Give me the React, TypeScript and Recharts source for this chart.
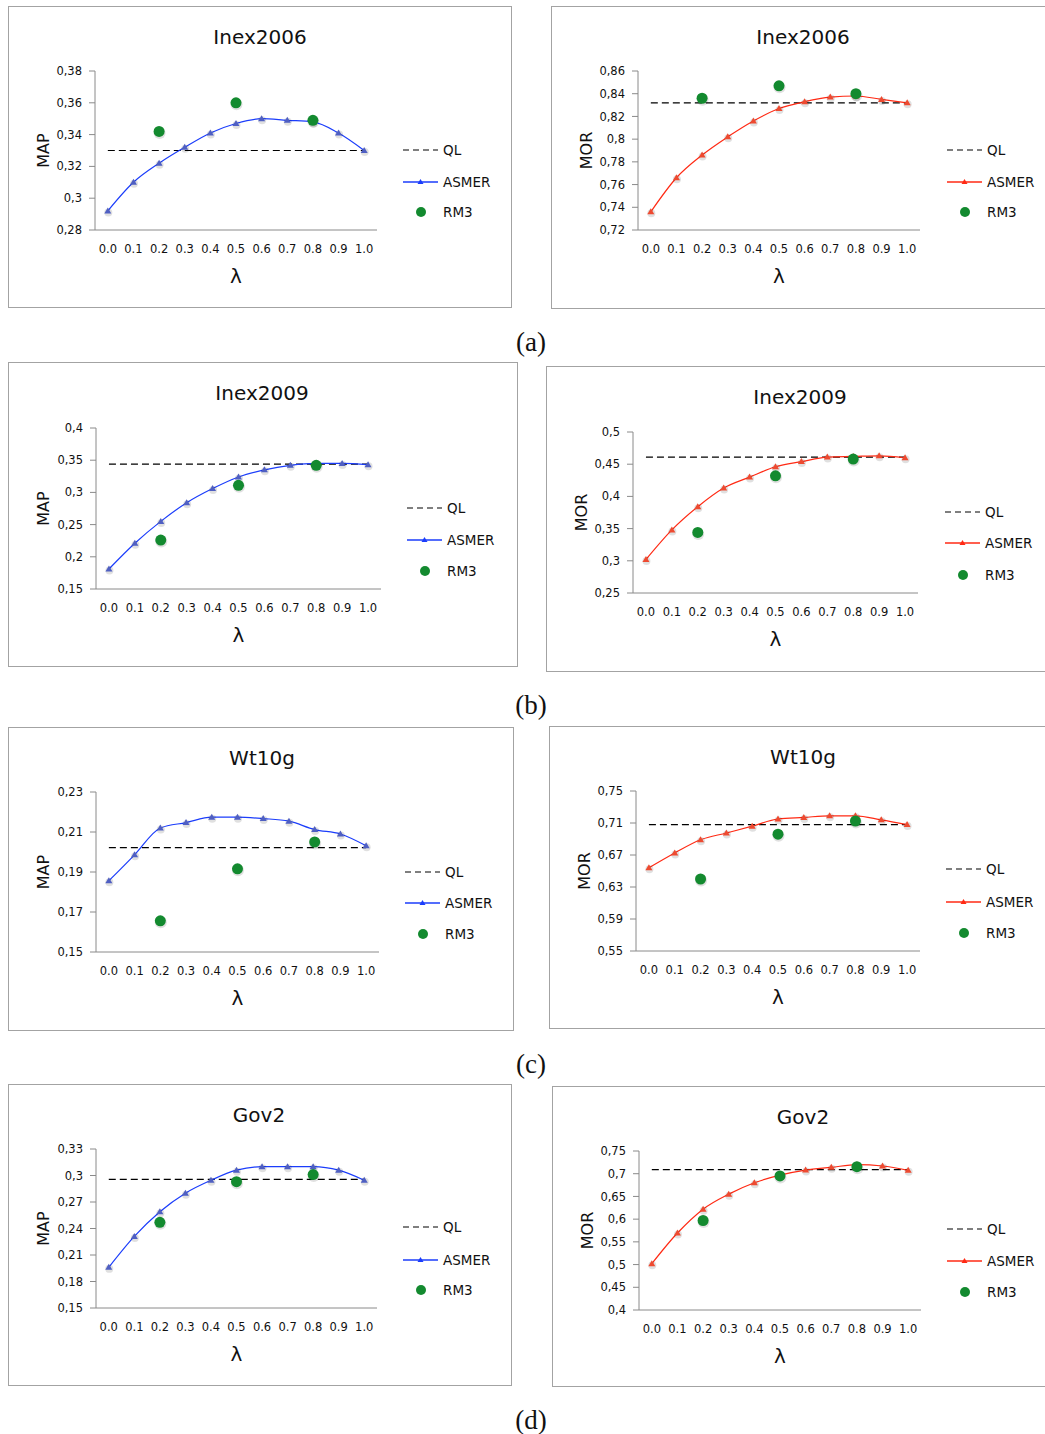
import { LineChart, Line, XAxis, YAxis } from 'recharts';

// lambda values on the x axis
const lambdas = ['0.0', '0.1', '0.2', '0.3', '0.4', '0.5', '0.6', '0.7', '0.8', '0.9', '1.0'];
// RM3 was only run at these lambdas
const rm3Lambdas = ['0.2', '0.5', '0.8'];

// Inex2006
const inex2006MapAsmer = [0.292, 0.31, 0.322, 0.332, 0.341, 0.347, 0.35, 0.349, 0.348, 0.341, 0.33];
const inex2006MapQl = 0.33;
const inex2006MapRm3 = [0.342, 0.36, 0.349];
const inex2006MapTicks = [0.28, 0.3, 0.32, 0.34, 0.36, 0.38];

const inex2006MorAsmer = [0.736, 0.766, 0.786, 0.802, 0.816, 0.827, 0.833, 0.837, 0.838, 0.835, 0.832];
const inex2006MorQl = 0.832;
const inex2006MorRm3 = [0.836, 0.847, 0.84];
const inex2006MorTicks = [0.72, 0.74, 0.76, 0.78, 0.8, 0.82, 0.84, 0.86];

// Inex2009
const inex2009MapAsmer = [0.181, 0.221, 0.255, 0.284, 0.306, 0.324, 0.335, 0.342, 0.345, 0.345, 0.343];
const inex2009MapQl = 0.344;
const inex2009MapRm3 = [0.226, 0.311, 0.342];
const inex2009MapTicks = [0.15, 0.2, 0.25, 0.3, 0.35, 0.4];

const inex2009MorAsmer = [0.302, 0.348, 0.384, 0.413, 0.43, 0.446, 0.454, 0.461, 0.462, 0.463, 0.46];
const inex2009MorQl = 0.461;
const inex2009MorRm3 = [0.344, 0.432, 0.458];
const inex2009MorTicks = [0.25, 0.3, 0.35, 0.4, 0.45, 0.5];

// Wt10g
const wt10gMapAsmer = [0.1856, 0.1986, 0.212, 0.2147, 0.2174, 0.2174, 0.2167, 0.2154, 0.2112, 0.209, 0.2031];
const wt10gMapQl = 0.2022;
const wt10gMapRm3 = [0.1656, 0.1916, 0.205];
const wt10gMapTicks = [0.15, 0.17, 0.19, 0.21, 0.23];

const wt10gMorAsmer = [0.654, 0.6725, 0.689, 0.6975, 0.706, 0.715, 0.717, 0.719, 0.719, 0.714, 0.708];
const wt10gMorQl = 0.708;
const wt10gMorRm3 = [0.64, 0.696, 0.7125];
const wt10gMorTicks = [0.55, 0.59, 0.63, 0.67, 0.71, 0.75];

// Gov2
const gov2MapAsmer = [0.196, 0.231, 0.259, 0.28, 0.2946, 0.306, 0.31, 0.31, 0.31, 0.306, 0.2946];
const gov2MapQl = 0.2957;
const gov2MapRm3 = [0.247, 0.293, 0.301];
const gov2MapTicks = [0.15, 0.18, 0.21, 0.24, 0.27, 0.3, 0.33];

const gov2MorAsmer = [0.502, 0.5695, 0.622, 0.655, 0.68, 0.697, 0.708, 0.714, 0.72, 0.717, 0.7074];
const gov2MorQl = 0.709;
const gov2MorRm3 = [0.597, 0.695, 0.7155];
const gov2MorTicks = [0.4, 0.45, 0.5, 0.55, 0.6, 0.65, 0.7, 0.75];

const SANS = '"DejaVu Sans", Verdana, sans-serif';
const BLUE = '#1b3dfb';
const BLUE_MARK = '#4f5fc2';
const RED = '#ff2a14';
const RED_MARK = '#ee4a30';
const GREEN = '#138a2f';
const AXIS = '#8a8a8a';

const fmt = (v: number) => String(+v.toFixed(2)).replace('.', ',');

const panels = [
  { title: 'Inex2006', yLabel: 'MAP', asmer: inex2006MapAsmer, ql: inex2006MapQl, rm3: inex2006MapRm3, ticks: inex2006MapTicks, red: false,
    left: 8, top: 6, w: 504, h: 302, pl: 87, pt: 65, pw: 282, ph: 159, tx: 252, lx: 395, ly: [144, 176, 206] },
  { title: 'Inex2006', yLabel: 'MOR', asmer: inex2006MorAsmer, ql: inex2006MorQl, rm3: inex2006MorRm3, ticks: inex2006MorTicks, red: true,
    left: 551, top: 6, w: 504, h: 303, pl: 87, pt: 65, pw: 282, ph: 159, tx: 252, lx: 396, ly: [144, 176, 206] },
  { title: 'Inex2009', yLabel: 'MAP', asmer: inex2009MapAsmer, ql: inex2009MapQl, rm3: inex2009MapRm3, ticks: inex2009MapTicks, red: false,
    left: 8, top: 362, w: 510, h: 305, pl: 88, pt: 66, pw: 285, ph: 161, tx: 254, lx: 399, ly: [146, 178, 209] },
  { title: 'Inex2009', yLabel: 'MOR', asmer: inex2009MorAsmer, ql: inex2009MorQl, rm3: inex2009MorRm3, ticks: inex2009MorTicks, red: true,
    left: 546, top: 366, w: 510, h: 306, pl: 87, pt: 66, pw: 285, ph: 161, tx: 254, lx: 399, ly: [146, 177, 209] },
  { title: 'Wt10g', yLabel: 'MAP', asmer: wt10gMapAsmer, ql: wt10gMapQl, rm3: wt10gMapRm3, ticks: wt10gMapTicks, red: false,
    left: 8, top: 727, w: 506, h: 304, pl: 88, pt: 65, pw: 283, ph: 160, tx: 254, lx: 397, ly: [145, 176, 207] },
  { title: 'Wt10g', yLabel: 'MOR', asmer: wt10gMorAsmer, ql: wt10gMorQl, rm3: wt10gMorRm3, ticks: wt10gMorTicks, red: true,
    left: 549, top: 726, w: 506, h: 303, pl: 87, pt: 65, pw: 284, ph: 160, tx: 254, lx: 397, ly: [143, 176, 207] },
  { title: 'Gov2', yLabel: 'MAP', asmer: gov2MapAsmer, ql: gov2MapQl, rm3: gov2MapRm3, ticks: gov2MapTicks, red: false,
    left: 8, top: 1084, w: 504, h: 302, pl: 88, pt: 65, pw: 281, ph: 159, tx: 251, lx: 395, ly: [143, 176, 206] },
  { title: 'Gov2', yLabel: 'MOR', asmer: gov2MorAsmer, ql: gov2MorQl, rm3: gov2MorRm3, ticks: gov2MorTicks, red: true,
    left: 552, top: 1086, w: 504, h: 301, pl: 87, pt: 65, pw: 282, ph: 159, tx: 251, lx: 395, ly: [143, 175, 206] },
];

const captions = [
  { text: '(a)', y: 342 },
  { text: '(b)', y: 705 },
  { text: '(c)', y: 1064 },
  { text: '(d)', y: 1420 },
];

const triangleDot = (color: string) => (props: any) => {
  const { cx, cy, index } = props;
  if (cx == null || cy == null) return <g key={`t-${index}`} />;
  return (
    <g key={`t-${index}`}>
      <circle cx={cx + 0.5} cy={cy + 1.5} r={4} fill="#000" opacity={0.12} />
      <path d={`M${cx},${cy - 3.5}L${cx + 3.5},${cy + 2.5}L${cx - 3.5},${cy + 2.5}Z`} fill={color} />
    </g>
  );
};

const greenDot = (props: any) => {
  const { cx, cy, index, value } = props;
  if (cx == null || cy == null || value == null) return <g key={`g-${index}`} />;
  return (
    <g key={`g-${index}`}>
      <circle cx={cx + 0.5} cy={cy + 1.5} r={6} fill="#000" opacity={0.12} />
      <circle cx={cx} cy={cy} r={5.5} fill={GREEN} />
    </g>
  );
};

function Panel({ p }: { p: (typeof panels)[number] }) {
  const rows = lambdas.map((lam, i) => {
    const k = rm3Lambdas.indexOf(lam);
    return { lam, asmer: p.asmer[i], ql: p.ql, rm3: k >= 0 ? p.rm3[k] : null };
  });
  const lineColor = p.red ? RED : BLUE;
  const markColor = p.red ? RED_MARK : BLUE_MARK;
  const pad = p.pw / lambdas.length / 2;
  const xAxisH = 60;
  const legendText = { position: 'absolute' as const, left: p.lx + 40, fontFamily: SANS, fontSize: 13.5, color: '#111', lineHeight: '16px' };

  return (
    <div style={{ position: 'absolute', left: p.left, top: p.top, width: p.w, height: p.h, background: '#fff' }}>
      <div style={{ position: 'absolute', left: 0, top: 19, width: p.tx * 2, textAlign: 'center', fontFamily: SANS, fontSize: 20, lineHeight: '24px', color: '#111' }}>
        {p.title}
      </div>
      <LineChart
        width={p.w}
        height={p.h}
        data={rows}
        margin={{ top: p.pt, left: 0, right: p.w - p.pl - p.pw, bottom: p.h - p.pt - p.ph - xAxisH }}
      >
        <XAxis
          dataKey="lam"
          height={xAxisH}
          padding={{ left: pad, right: pad }}
          tickLine={false}
          tickSize={6}
          tickMargin={9}
          axisLine={{ stroke: AXIS }}
          tick={{ fill: '#111', fontSize: 11.5, fontFamily: SANS }}
          interval={0}
          label={{ value: 'λ', position: 'insideBottom', offset: 7, style: { fontSize: 20, fontFamily: SANS, fill: '#111' } }}
        />
        <YAxis
          width={p.pl}
          domain={[p.ticks[0], p.ticks[p.ticks.length - 1]]}
          ticks={p.ticks}
          tickFormatter={fmt}
          tickSize={6}
          tickMargin={7}
          axisLine={{ stroke: AXIS }}
          tickLine={{ stroke: AXIS }}
          tick={{ fill: '#111', fontSize: 11.5, fontFamily: SANS }}
          allowDataOverflow
          label={{ value: p.yLabel, angle: -90, position: 'insideLeft', offset: 35, style: { textAnchor: 'middle', fontSize: 16, fontFamily: SANS, fill: '#111' } }}
        />
        <Line dataKey="ql" stroke="#000" strokeWidth={1.2} strokeDasharray="7 4" dot={false} isAnimationActive={false} />
        <Line dataKey="asmer" type="monotone" stroke={lineColor} strokeWidth={1.2} dot={triangleDot(markColor)} isAnimationActive={false} />
        <Line dataKey="rm3" stroke="none" dot={greenDot} activeDot={false} isAnimationActive={false} />
      </LineChart>

      {/* legend */}
      <svg style={{ position: 'absolute', left: p.lx, top: 0 }} width={40} height={p.h}>
        <line x1={0} x2={35} y1={p.ly[0]} y2={p.ly[0]} stroke="#000" strokeWidth={1.2} strokeDasharray="6 4" />
        <line x1={0} x2={35} y1={p.ly[1]} y2={p.ly[1]} stroke={lineColor} strokeWidth={1.4} />
        <path d={`M17.5,${p.ly[1] - 3}L20.5,${p.ly[1] + 2}L14.5,${p.ly[1] + 2}Z`} fill={lineColor} />
        <circle cx={18} cy={p.ly[2]} r={5} fill={GREEN} />
      </svg>
      <div style={{ ...legendText, top: p.ly[0] - 8 }}>QL</div>
      <div style={{ ...legendText, top: p.ly[1] - 8 }}>ASMER</div>
      <div style={{ ...legendText, top: p.ly[2] - 8 }}>RM3</div>

      <div style={{ position: 'absolute', left: 0, top: 0, width: p.w, height: p.h, boxSizing: 'border-box', border: '1.5px solid #a3a3a3', pointerEvents: 'none' }} />
    </div>
  );
}

export default function App() {
  return (
    <div style={{ position: 'absolute', left: 0, top: 0, width: 1045, height: 1434, overflow: 'hidden', background: '#fff' }}>
      {panels.map((p, i) => (
        <Panel key={i} p={p} />
      ))}
      {captions.map((c) => (
        <div
          key={c.text}
          style={{ position: 'absolute', left: 431, width: 200, top: c.y - 16, textAlign: 'center', fontFamily: '"Liberation Serif", serif', fontSize: 27, lineHeight: '32px', color: '#111' }}
        >
          {c.text}
        </div>
      ))}
    </div>
  );
}
